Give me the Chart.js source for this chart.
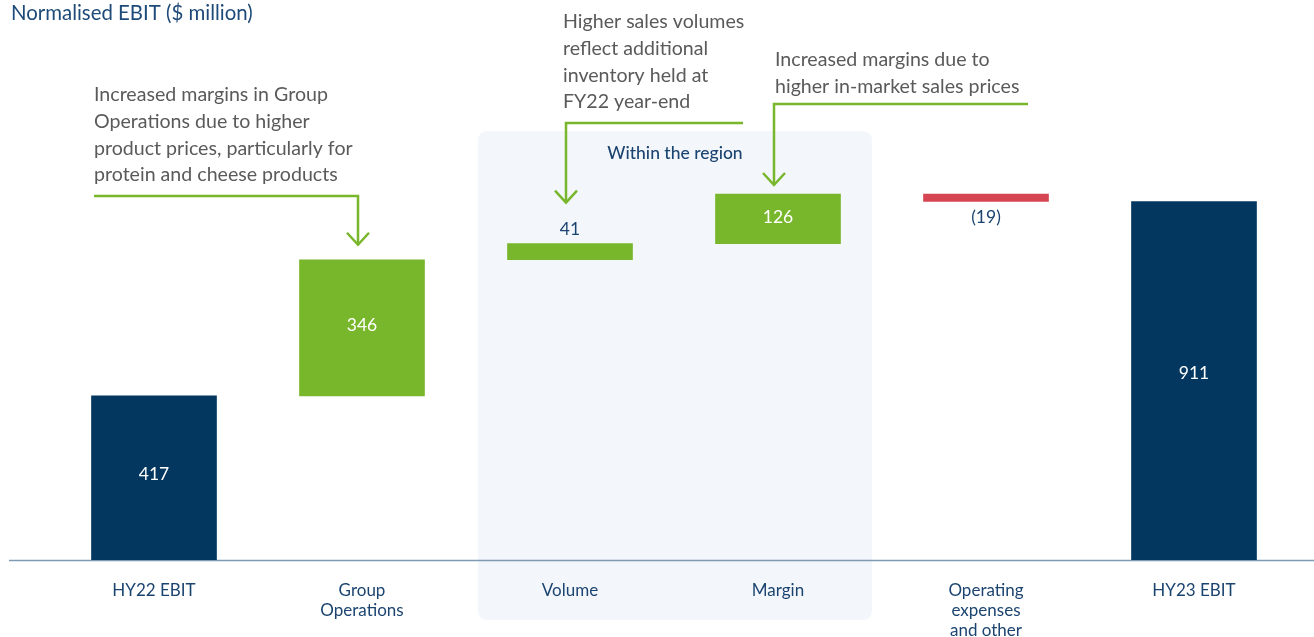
<!DOCTYPE html>
<html>
<head>
<meta charset="utf-8">
<script src="https://cdn.jsdelivr.net/npm/chart.js@4/dist/chart.umd.min.js"></script>
<style>
  html, body { margin: 0; padding: 0; background: #ffffff; }
  #wrap { position: relative; width: 1314px; height: 637px; }
</style>
</head>
<body>
<div id="wrap"><canvas id="c" width="1314" height="637"></canvas></div>
<script>
// ---- data ----
const categories = [['HY22 EBIT'], ['Group', 'Operations'], ['Volume'], ['Margin'], ['Operating', 'expenses', 'and other'], ['HY23 EBIT']];
const changes = [417, 346, 41, 126, -19, 911];
const isTotal = [true, false, false, false, false, true];
const valueLabels = ['417', '346', '41', '126', '(19)', '911'];
const chartTitle = 'Normalised EBIT ($ million)';
const regionLabel = 'Within the region';
const noteGroupOps = ['Increased margins in Group', 'Operations due to higher', 'product prices, particularly for', 'protein and cheese products'];
const noteVolume = ['Higher sales volumes', 'reflect additional', 'inventory held at', 'FY22 year-end'];
const noteMargin = ['Increased margins due to', 'higher in-market sales prices'];

// ---- build floating bars ----
const NAVY = '#03375f', GREEN = '#78b62b', RED = '#d54652';
const floating = [];
const colors = [];
let running = 0;
changes.forEach((v, i) => {
  if (isTotal[i]) {
    floating.push([0, v]);
    running = v;
    colors.push(NAVY);
  } else {
    floating.push([running, running + v]);
    running += v;
    colors.push(v >= 0 ? GREEN : RED);
  }
});

const FONT = 'Lato, "Open Sans", sans-serif';
const TEXT_NAVY = '#1b4470';
const NOTE_GREY = '#5a5a5a';

const decorPlugin = {
  id: 'decor',
  beforeDraw(chart) {
    const ctx = chart.ctx;
    const x = chart.scales.x;
    const x0 = x.getPixelForValue(2) - 92;
    const x1 = x.getPixelForValue(3) + 94;
    const y0 = 131, y1 = 620, r = 10;
    ctx.save();
    ctx.fillStyle = '#f3f6fb';
    ctx.beginPath();
    ctx.moveTo(x0 + r, y0);
    ctx.lineTo(x1 - r, y0);
    ctx.quadraticCurveTo(x1, y0, x1, y0 + r);
    ctx.lineTo(x1, y1 - r);
    ctx.quadraticCurveTo(x1, y1, x1 - r, y1);
    ctx.lineTo(x0 + r, y1);
    ctx.quadraticCurveTo(x0, y1, x0, y1 - r);
    ctx.lineTo(x0, y0 + r);
    ctx.quadraticCurveTo(x0, y0, x0 + r, y0);
    ctx.fill();
    ctx.fillStyle = TEXT_NAVY;
    ctx.font = '500 17.5px ' + FONT;
    ctx.textAlign = 'center';
    ctx.textBaseline = 'middle';
    ctx.fillText(regionLabel, (x0 + x1) / 2, 153);
    // title
    ctx.textAlign = 'left';
    ctx.font = '20.4px ' + FONT;
    ctx.fillStyle = '#1d4a78';
    ctx.fillText(chartTitle, 11, 13);
    ctx.restore();
  },
  beforeDatasetsDraw(chart) {
    const ctx = chart.ctx;
    const yb = chart.scales.y.getPixelForValue(0);
    ctx.save();
    ctx.strokeStyle = '#7f9bb3';
    ctx.lineWidth = 1.5;
    ctx.beginPath();
    ctx.moveTo(9, yb + 0.5);
    ctx.lineTo(1314, yb + 0.5);
    ctx.stroke();
    ctx.restore();
  },
  afterDatasetsDraw(chart) {
    const ctx = chart.ctx;
    const meta = chart.getDatasetMeta(0);
    const ys = chart.scales.y;
    ctx.save();
    ctx.font = '17.5px ' + FONT;
    ctx.textAlign = 'center';
    ctx.textBaseline = 'middle';
    meta.data.forEach((bar, i) => {
      const top = ys.getPixelForValue(Math.max(floating[i][0], floating[i][1]));
      const bot = ys.getPixelForValue(Math.min(floating[i][0], floating[i][1]));
      const h = bot - top;
      let y, col;
      if (h >= 25) { y = (top + bot) / 2 - h * 0.02; col = '#ffffff'; }
      else if (changes[i] >= 0) { y = top - 14; col = TEXT_NAVY; }
      else { y = bot + 16; col = TEXT_NAVY; }
      ctx.fillStyle = col;
      ctx.fillText(valueLabels[i], bar.x, y);
    });

    // annotations
    const drawNote = (lines, tx, ty, lineY, lineEndX, barIdx, tipGap) => {
      ctx.font = '19.6px ' + FONT;
      ctx.fillStyle = NOTE_GREY;
      ctx.textAlign = 'left';
      ctx.textBaseline = 'middle';
      lines.forEach((l, k) => ctx.fillText(l, tx, ty + k * 26.6));
      const bar = meta.data[barIdx];
      const ax = bar.x - 4;
      const barTop = ys.getPixelForValue(Math.max(floating[barIdx][0], floating[barIdx][1]));
      const tip = barTop - tipGap;
      ctx.strokeStyle = GREEN;
      ctx.lineWidth = 2.5;
      ctx.lineJoin = 'miter';
      ctx.beginPath();
      ctx.moveTo(lineEndX, lineY);
      ctx.lineTo(ax, lineY);
      ctx.lineTo(ax, tip);
      ctx.stroke();
      ctx.beginPath();
      ctx.moveTo(ax - 11, tip - 12);
      ctx.lineTo(ax, tip);
      ctx.lineTo(ax + 11, tip - 12);
      ctx.stroke();
    };
    drawNote(noteGroupOps, 94, 95, 196, 94, 1, 15);
    drawNote(noteVolume, 563, 22, 123, 743, 2, 41);
    drawNote(noteMargin, 775, 60, 104, 1028, 3, 9);
    ctx.restore();
  }
};

new Chart(document.getElementById('c'), {
  type: 'bar',
  data: {
    labels: categories,
    datasets: [{
      data: floating,
      backgroundColor: colors,
      borderWidth: 0,
      borderSkipped: false,
      barThickness: 125
    }]
  },
  options: {
    responsive: false,
    animation: false,
    devicePixelRatio: 1,
    layout: { padding: { left: 50, right: 16, top: 0, bottom: 0 } },
    plugins: { legend: { display: false }, tooltip: { enabled: false } },
    scales: {
      x: {
        grid: { display: false },
        border: { display: false },
        ticks: {
          color: TEXT_NAVY,
          font: { family: FONT, size: 17, lineHeight: 1.18 },
          padding: 12,
          maxRotation: 0,
          autoSkip: false
        },
        afterFit(scale) { scale.height = 77; }
      },
      y: {
        display: false,
        min: 0,
        max: 1423
      }
    }
  },
  plugins: [decorPlugin]
});
</script>
</body>
</html>
